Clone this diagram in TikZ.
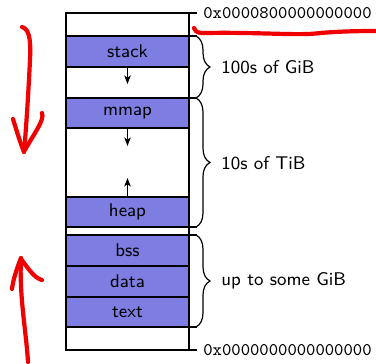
\documentclass[tikz,border=0pt]{standalone}
\usepackage{fontspec}
\usetikzlibrary{arrows.meta,decorations.pathreplacing}
\definecolor{bandfill}{RGB}{126,126,226}
\definecolor{pen}{RGB}{240,0,0}
\tikzset{
  band/.style={draw=black, line width=0.7pt, fill=bandfill, minimum width=61.5pt,
    inner sep=0pt, font=\fontsize{9.2}{11}\selectfont\sffamily},
  frame/.style={draw=black, line width=0.7pt},
  growarrow/.style={line width=0.65pt, -{Stealth[length=4.2pt,width=3.2pt,inset=1pt]}},
  sizebrace/.style={line width=0.6pt, decorate, decoration={brace, amplitude=7pt}},
  sizelabel/.style={anchor=west, inner sep=1pt, font=\fontsize{9.2}{11}\selectfont\sffamily},
  addr/.style={anchor=west, inner sep=1pt, font=\fontsize{8.9}{11}\selectfont\ttfamily},
  redpen/.style={draw=pen, line width=2.1pt, line cap=round, line join=round},
}
\begin{document}
\begin{tikzpicture}[x=0.5pt, y=-0.5pt]
\useasboundingbox (0,0) rectangle (376,364);
\begin{scope}
\clip (0,0) rectangle (376,364);

% address space column
\coordinate (topleft) at (66,13);
\coordinate (botright) at (189,350);
\draw[frame] (topleft) rectangle (botright);

% segments
\node[band, minimum height=15.5pt] (stack) at (127.5,51.5) {stack};
\node[band, minimum height=15pt]   (mmap)  at (127.5,113)  {mmap};
\node[band, minimum height=15pt]   (heap)  at (127.5,212)  {heap};
\node[band, minimum height=15.5pt] (bss)   at (127.5,250.5) {bss};
\node[band, minimum height=15.5pt] (data)  at (127.5,281.5) {data};
\node[band, minimum height=15pt]   (text)  at (127.5,312)  {text};

% growth directions
\coordinate (stackgrow) at (127.5,84);
\coordinate (mmapgrow)  at (127.5,146);
\coordinate (heapgrow)  at (127.5,178);
\draw[growarrow] (stack.south) -- (stackgrow);
\draw[growarrow] (mmap.south)  -- (mmapgrow);
\draw[growarrow] (heap.north)  -- (heapgrow);

% boundary ticks
\foreach \yy in {13,36,98,227,235,327,350}
  \draw[frame] (189,\yy) -- (197,\yy);

% address labels
\node[addr] (hi) at (201,13)  {0x0000800000000000};
\node[addr] (lo) at (201,350) {0x0000000000000000};

% region sizes
\draw[sizebrace] (196,36)  -- (196,98);
\draw[sizebrace] (196,98)  -- (196,227);
\draw[sizebrace] (196,235) -- (196,327);
\node[sizelabel] (s1) at (219,67)  {100s of GiB};
\node[sizelabel] (s2) at (219,163) {10s of TiB};
\node[sizelabel] (s3) at (219,281) {up to some GiB};

% hand-drawn annotations
\draw[redpen] (22,27) .. controls (29,29) and (31,38) .. (30,60)
  .. controls (28,100) and (26,130) .. (24,152);
\draw[redpen] (13,119) .. controls (17,132) and (20,142) .. (24,152);
\draw[redpen] (42,113) .. controls (45,120) and (33,135) .. (25,150);
\draw[redpen] (28,362) .. controls (26,330) and (19,295) .. (21,258);
\draw[redpen] (21,258) .. controls (17,268) and (13,280) .. (12,289);
\draw[redpen] (21,259) .. controls (28,268) and (34,278) .. (42,280);
\draw[redpen] (194,28) .. controls (196,33) and (199,33) .. (206,33)
  .. controls (260,32) and (300,36) .. (320,33)
  .. controls (345,31) and (365,31) .. (380,31);
\end{scope}
\end{tikzpicture}
\end{document}
